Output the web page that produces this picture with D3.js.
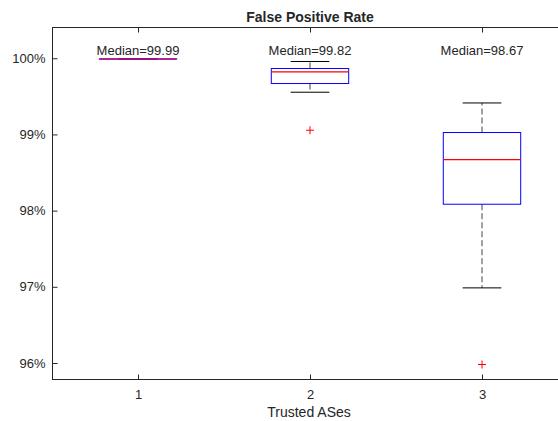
<!DOCTYPE html>
<html>
<head>
<meta charset="utf-8">
<script src="https://cdn.jsdelivr.net/npm/d3@7"></script>
<style>
  html, body { margin: 0; background: #fff; overflow: hidden; width: 558px; }
  svg { display: block; overflow: hidden; }
  text { font-family: "Liberation Sans", Arial, sans-serif; fill: #262626; }
</style>
</head>
<body>
<svg id="chart" width="558" height="421"></svg>
<script>
// box plot values (percent)
var groups = [1, 2, 3];
var medians = [99.99, 99.82, 98.67];
var q1 = [99.989, 99.668, 98.084];
var q3 = [99.991, 99.865, 99.025];
var whiskLo = [99.988, 99.554, 96.986];
var whiskHi = [99.992, 99.957, 99.413];
var outliers = [[], [99.055], [95.98]];
var yTicks = [96, 97, 98, 99, 100];

var svg = d3.select('#chart');
// note: "top" is reserved on window, so plot edges get their own names
var plotL = 52, plotR = 568, plotT = 27, plotB = 379;
var winW = 558;

var x = d3.scaleLinear().domain([0.5, 3.5]).range([plotL, plotR]);
var y = d3.scaleLinear().domain([95.79, 100.41]).range([plotB, plotT]);

var boxW = 0.45, capW = 0.225;
var axisColor = '#262626';

// frame: top, left and bottom only, the right edge lies outside the window
svg.append('line')
  .attr('x1', plotL).attr('x2', winW).attr('y1', plotT + 0.5).attr('y2', plotT + 0.5)
  .attr('stroke', axisColor);
svg.append('line')
  .attr('x1', plotL + 0.5).attr('x2', plotL + 0.5).attr('y1', plotT).attr('y2', plotB + 1)
  .attr('stroke', axisColor);
svg.append('line')
  .attr('x1', plotL).attr('x2', winW).attr('y1', plotB + 0.5).attr('y2', plotB + 0.5)
  .attr('stroke', axisColor);

// axes
var yAxis = svg.append('g')
  .attr('transform', 'translate(' + (plotL + 0.5) + ',0)')
  .call(d3.axisLeft(y).tickValues(yTicks).tickSize(-5).tickPadding(7)
    .tickFormat(function(d) { return d + '%'; }));
var xAxis = svg.append('g')
  .attr('transform', 'translate(0,' + (plotB + 0.5) + ')')
  .call(d3.axisBottom(x).tickValues(groups).tickSize(-5).tickPadding(10)
    .tickFormat(d3.format('d')));
var xTop = svg.append('g')
  .attr('transform', 'translate(0,' + (plotT + 0.5) + ')')
  .call(d3.axisTop(x).tickValues(groups).tickSize(-5).tickFormat(''));

[yAxis, xAxis, xTop].forEach(function(a) {
  a.selectAll('.domain').remove();
  a.selectAll('line').attr('stroke', axisColor);
  a.selectAll('text').style('font-size', '13px').attr('fill', axisColor)
    .style('font-family', '"Liberation Sans", Arial, sans-serif');
});

// boxes
var plot = svg.append('g');
groups.forEach(function(g, i) {
  // whiskers
  plot.append('line')
    .attr('x1', x(g)).attr('x2', x(g))
    .attr('y1', y(q3[i])).attr('y2', y(whiskHi[i]))
    .attr('stroke', '#444').attr('stroke-dasharray', '6,3');
  plot.append('line')
    .attr('x1', x(g)).attr('x2', x(g))
    .attr('y1', y(q1[i])).attr('y2', y(whiskLo[i]))
    .attr('stroke', '#444').attr('stroke-dasharray', '6,3');
  // caps
  [whiskHi[i], whiskLo[i]].forEach(function(v) {
    plot.append('line')
      .attr('x1', x(g - capW / 2)).attr('x2', x(g + capW / 2))
      .attr('y1', y(v)).attr('y2', y(v))
      .attr('stroke', '#000');
  });
  // box
  plot.append('rect')
    .attr('x', x(g - boxW / 2)).attr('y', y(q3[i]))
    .attr('width', x(g + boxW / 2) - x(g - boxW / 2))
    .attr('height', y(q1[i]) - y(q3[i]))
    .attr('fill', 'none').attr('stroke', '#0000ff');
  // median
  plot.append('line')
    .attr('x1', x(g - boxW / 2)).attr('x2', x(g + boxW / 2))
    .attr('y1', y(medians[i])).attr('y2', y(medians[i]))
    .style('stroke', i == 0 ? '#c8106a' : '#ff0000')
    .style('stroke-width', i == 0 ? 1.6 : 1.3);
  // outliers
  outliers[i].forEach(function(v) {
    plot.append('path')
      .attr('d', 'M' + (x(g) - 4) + ',' + y(v) + 'h8M' + x(g) + ',' + (y(v) - 4) + 'v8')
      .attr('stroke', '#ff0000');
  });
  // median label
  svg.append('text')
    .attr('x', x(g)).attr('y', 55)
    .attr('text-anchor', 'middle')
    .style('font-size', '13px').attr('fill', '#000')
    .text('Median=' + medians[i].toFixed(2));
});

// title and axis label
svg.append('text')
  .attr('x', 310).attr('y', 22)
  .attr('text-anchor', 'middle')
  .style('font-size', '14px').style('font-weight', 'bold').attr('fill', '#000')
  .text('False Positive Rate');
svg.append('text')
  .attr('x', 309).attr('y', 417)
  .attr('text-anchor', 'middle')
  .style('font-size', '14px')
  .text('Trusted ASes');
</script>
</body>
</html>
